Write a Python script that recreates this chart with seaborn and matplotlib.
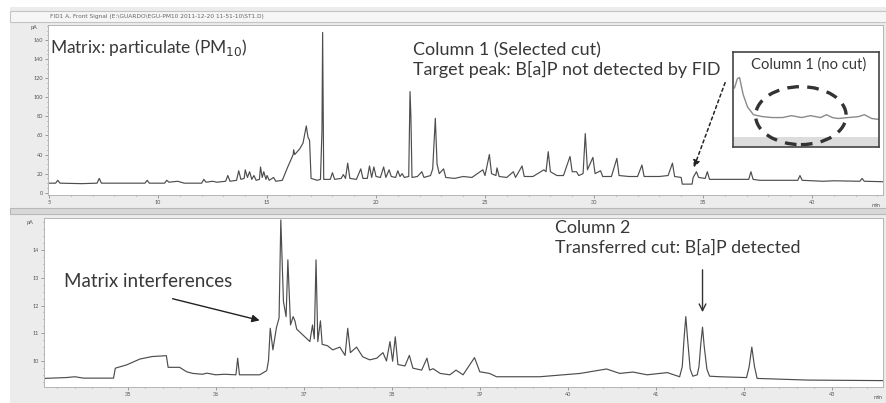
import matplotlib
matplotlib.use("Agg")
import matplotlib.pyplot as plt
from matplotlib.patches import Rectangle, Ellipse
from matplotlib.ticker import MultipleLocator, FixedLocator
import pandas as pd
import seaborn as sns

# column 1 (FID, full run) - retention time (min) / signal (pA)
top_time = [4.95, 5.3, 5.4, 5.5, 6.5, 7.2, 7.3, 7.4, 8.5, 9.4, 9.5, 9.6, 10.3, 10.4, 10.5, 10.9, 11.2,
            12.0, 12.1, 12.2, 12.5, 12.7, 13.1, 13.2, 13.3, 13.6, 13.7, 13.8, 13.95, 14.0, 14.1, 14.2,
            14.3, 14.4, 14.5, 14.65, 14.7, 14.78, 14.85, 14.95, 15.0, 15.1, 15.3, 15.4, 15.7, 15.95,
            16.2, 16.22, 16.27, 16.5, 16.65, 16.8, 16.88, 16.95, 17.02, 17.3, 17.45, 17.52, 17.55, 17.6,
            17.9, 18.0, 18.1, 18.4, 18.5, 18.6, 18.7, 18.8, 19.1, 19.3, 19.4, 19.6, 19.7, 19.8, 19.9,
            20.0, 20.2, 20.35, 20.45, 20.6, 20.7, 20.9, 21.0, 21.1, 21.2, 21.3, 21.5, 21.56, 21.6, 21.65,
            21.9, 22.1, 22.2, 22.5, 22.6, 22.72, 22.8, 22.9, 23.1, 23.2, 23.6, 24.0, 24.4, 24.9, 25.0,
            25.2, 25.3, 25.5, 25.55, 25.65, 26.0, 26.3, 26.4, 26.7, 26.8, 27.2, 27.7, 27.8, 27.9, 28.0,
            28.3, 28.6, 28.9, 29.0, 29.2, 29.3, 29.5, 29.6, 29.7, 29.95, 30.05, 30.3, 30.4, 30.8, 31.05,
            31.15, 31.6, 32.0, 32.2, 32.3, 33.0, 33.4, 33.6, 33.7, 34.0, 34.05, 34.5, 34.55, 34.7, 34.8,
            35.1, 35.2, 35.3, 35.6, 36.2, 37.1, 37.2, 37.3, 37.6, 38.5, 39.35, 39.45, 39.55, 40.5, 41.0,
            42.2, 42.3, 42.4, 43.3]
top_signal = [10, 10, 13, 10, 9.5, 10, 15, 10, 10, 10, 13, 10, 10, 13, 11, 12, 10,
              10, 14, 11, 12, 11, 12, 18, 12, 13, 23, 14, 15, 24, 16, 22,
              14, 18, 13, 14, 27, 16, 22, 14, 18, 13, 16, 12, 13, 27,
              40, 45, 40, 46, 52, 70, 58, 55, 15, 13, 14, 65, 168, 14,
              14, 21, 14, 15, 19, 15, 31, 15, 14, 25, 15, 15, 28, 16, 27,
              17, 16, 27, 16, 24, 17, 16, 23, 17, 20, 16, 17, 106, 80, 16,
              17, 22, 16, 18, 25, 78, 30, 20, 25, 16, 15, 17, 16, 24, 18,
              40, 20, 18, 26, 17, 16, 22, 16, 28, 17, 17, 24, 22, 43, 22,
              18, 18, 38, 22, 22, 18, 20, 62, 24, 37, 20, 23, 17, 17, 36,
              18, 17, 17, 29, 17, 17, 18, 31, 17, 16, 9, 9, 16, 22, 16,
              15, 22, 14, 14, 14, 14, 22, 14, 13, 13, 13, 18, 13, 12, 12.5,
              12, 15, 12, 11.5]

# column 2 (transferred heart-cut)
bot_time = [34.05, 34.3, 34.4, 34.5, 34.84, 34.86, 34.99, 35.14, 35.28, 35.44, 35.46, 35.59, 35.67,
            35.74, 35.85, 35.9, 36.0, 36.1, 36.23, 36.25, 36.27, 36.5, 36.58, 36.6, 36.62, 36.65,
            36.69, 36.72, 36.74, 36.77, 36.8, 36.82, 36.85, 36.88, 36.9, 36.92, 36.99, 37.07, 37.1,
            37.12, 37.14, 37.16, 37.19, 37.21, 37.27, 37.33, 37.41, 37.47, 37.5, 37.53, 37.6, 37.67,
            37.75, 37.83, 37.9, 37.94, 37.98, 38.01, 38.04, 38.07, 38.15, 38.2, 38.24, 38.34, 38.4,
            38.43, 38.47, 38.55, 38.66, 38.73, 38.81, 38.94, 39.0, 39.11, 39.19, 39.68, 40.14, 40.44,
            40.59, 40.74, 40.9, 41.13, 41.27, 41.3, 41.32, 41.34, 41.36, 41.39, 41.42, 41.47, 41.49,
            41.51, 41.53, 41.55, 41.58, 41.61, 41.73, 42.03, 42.06, 42.09, 42.12, 42.15, 42.72, 43.6]
bot_signal = [9.37, 9.4, 9.43, 9.38, 9.38, 9.74, 9.86, 10.07, 10.16, 10.19, 9.77, 9.77, 9.61,
              9.55, 9.52, 9.56, 9.5, 9.52, 9.5, 10.1, 9.5, 9.5, 9.65, 10.02, 11.18, 10.4,
              11.2, 11.55, 15.09, 12.14, 11.6, 13.65, 11.3, 11.6, 11.45, 11.15, 10.94, 10.7, 11.3,
              10.8, 13.65, 10.7, 11.45, 10.6, 10.55, 10.4, 10.5, 10.2, 11.18, 10.3, 10.5, 10.15,
              10.04, 10.1, 10.3, 10.0, 10.7, 9.99, 10.87, 9.87, 9.82, 10.2, 9.74, 9.67, 10.1,
              9.67, 9.72, 9.55, 9.5, 9.67, 9.5, 10.12, 9.61, 9.55, 9.43, 9.43, 9.55, 9.71,
              9.55, 9.6, 9.5, 9.58, 9.43, 9.8, 10.8, 11.6, 10.8, 9.7, 9.45, 9.5, 9.8,
              10.6, 11.22, 10.5, 9.7, 9.45, 9.43, 9.4, 9.8, 10.5, 9.8, 9.37, 9.31, 9.29]

# inset "Column 1 (no cut)" trace, relative units (0-1)
inset_x = [0.01, 0.03, 0.045, 0.07, 0.1, 0.14, 0.2, 0.27, 0.34, 0.4, 0.47, 0.53, 0.6,
           0.64, 0.68, 0.72, 0.79, 0.86, 0.9, 0.95, 1.0]
inset_y = [0.62, 0.72, 0.73, 0.55, 0.42, 0.34, 0.32, 0.31, 0.31, 0.33, 0.31, 0.33, 0.31,
           0.34, 0.31, 0.30, 0.31, 0.32, 0.34, 0.30, 0.29]

top_df = pd.DataFrame({'t': top_time, 'pA': top_signal})
bot_df = pd.DataFrame({'t': bot_time, 'pA': bot_signal})
ins_df = pd.DataFrame({'x': inset_x, 'y': inset_y})

sns.set_style('ticks')
plt.rcParams['font.family'] = ['Lato', 'DejaVu Sans']

W, H = 887, 403
fig = plt.figure(figsize=(W / 100, H / 100), dpi=100)
fig.patch.set_facecolor('white')
fig.patches.append(Rectangle((10 / W, 0), 1, 1 - 7 / H, transform=fig.transFigure,
                             facecolor='#ececec', edgecolor='none', zorder=-10))
# title bar of the software window
fig.patches.append(Rectangle((10 / W, 1 - 22 / H), 1, 11 / H, transform=fig.transFigure,
                             facecolor='#f6f6f6', edgecolor='#c4c4c4', lw=0.8, zorder=-9))
fig.text(157 / W, 1 - 16.5 / H, r'FID1 A, Front Signal (E:\GUARDO\EGU-PM10 2011-12-20 11-51-10\ST1.D)',
         fontsize=4.2, color='#666666', ha='center', va='center', family='DejaVu Sans')
# separator between the two windows
fig.patches.append(Rectangle((10 / W, 1 - 214 / H), 1, 6 / H, transform=fig.transFigure,
                             facecolor='#d8d8d8', edgecolor='#b8b8b8', lw=0.8, zorder=-9))

line_c = '#4d4d4d'
txt_c = '#383838'
tick_kw = dict(labelsize=4, length=2, width=0.5, color='#777777', labelcolor='#555555', pad=1.5)

# ---------------- column 1 ----------------
ax1 = fig.add_axes([48 / W, 1 - 195 / H, (883 - 48) / W, (195 - 25) / H])
sns.lineplot(data=top_df, x='t', y='pA', estimator=None, sort=False, color=line_c, lw=0.85, ax=ax1)
ax1.set_xlim(4.95, 43.26)
ax1.set_ylim(-2.4, 175.8)
ax1.xaxis.set_major_locator(MultipleLocator(5))
ax1.xaxis.set_minor_locator(MultipleLocator(1))
ax1.yaxis.set_major_locator(FixedLocator(range(0, 161, 20)))
ax1.yaxis.set_minor_locator(MultipleLocator(5))
ax1.tick_params(which='both', **tick_kw)
ax1.tick_params(which='minor', length=1)
ax1.set_xlabel('')
ax1.set_ylabel('')
for s in ax1.spines.values():
    s.set_color('#b5b5b5')
    s.set_linewidth(0.7)
ax1.text(-0.012, 0.985, 'pA', transform=ax1.transAxes, fontsize=4, color='#555555', ha='right', va='center')
ax1.text(0.997, -0.045, 'min', transform=ax1.transAxes, fontsize=4, color='#555555', ha='right', va='top')

ax1.text(5.05, 151.7, r'Matrix: particulate (PM$_{10}$)', fontsize=12.5, color=txt_c, va='center')
ax1.text(21.7, 149.6, 'Column 1 (Selected cut)', fontsize=13, color=txt_c, va='center')
ax1.text(21.7, 128.7, 'Target peak: B[a]P not detected by FID', fontsize=12.9, color=txt_c, va='center')
ax1.annotate('', xy=(34.54, 23.8), xytext=(36.06, 118.1),
             arrowprops=dict(arrowstyle='-|>', color='#222222', lw=1.1, linestyle=(0, (2, 2)),
                             mutation_scale=10))

# inset
axi = fig.add_axes([733 / W, 1 - 147 / H, (879 - 733) / W, (147 - 52) / H])
axi.set_facecolor('white')
axi.axhspan(0, 0.105, color='#dcdcdc', lw=0)
sns.lineplot(data=ins_df, x='x', y='y', estimator=None, sort=False, color='#8a8a8a', lw=1.0, ax=axi)
axi.add_patch(Ellipse((0.465, 0.33), 0.62, 0.61, fill=False, edgecolor='#333333', lw=2.4,
                      linestyle=(0, (3.5, 2.5))))
axi.set_xlim(0, 1)
axi.set_ylim(0, 1)
axi.set_xticks([])
axi.set_yticks([])
axi.set_xlabel('')
axi.set_ylabel('')
for s in axi.spines.values():
    s.set_color('#444444')
    s.set_linewidth(1.2)
axi.text(0.52, 0.87, 'Column 1 (no cut)', transform=axi.transAxes, fontsize=10.6, color=txt_c,
         ha='center', va='center')

# ---------------- column 2 ----------------
ax2 = fig.add_axes([44 / W, 1 - 387 / H, (883 - 44) / W, (387 - 218) / H])
sns.lineplot(data=bot_df, x='t', y='pA', estimator=None, sort=False, color=line_c, lw=0.85, ax=ax2)
ax2.set_xlim(34.05, 43.58)
ax2.set_ylim(9.06, 15.16)
ax2.xaxis.set_major_locator(MultipleLocator(1))
ax2.xaxis.set_minor_locator(MultipleLocator(0.2))
ax2.yaxis.set_major_locator(FixedLocator([10, 11, 12, 13, 14]))
ax2.yaxis.set_minor_locator(MultipleLocator(0.25))
ax2.tick_params(which='both', **tick_kw)
ax2.tick_params(which='minor', length=1)
ax2.set_xlabel('')
ax2.set_ylabel('')
for s in ax2.spines.values():
    s.set_color('#b5b5b5')
    s.set_linewidth(0.7)
ax2.text(-0.012, 0.975, 'pA', transform=ax2.transAxes, fontsize=4, color='#555555', ha='right', va='center')
ax2.text(0.999, -0.045, 'min', transform=ax2.transAxes, fontsize=4, color='#555555', ha='right', va='top')

ax2.text(34.28, 12.85, 'Matrix interferences', fontsize=13.5, color=txt_c, va='center')
ax2.annotate('', xy=(36.53, 11.44), xytext=(35.48, 12.27),
             arrowprops=dict(arrowstyle='-|>', color='#222222', lw=1.0, mutation_scale=11))
ax2.text(39.85, 14.8, 'Column 2', fontsize=12.8, color=txt_c, va='center')
ax2.text(39.85, 14.08, 'Transferred cut: B[a]P detected', fontsize=12.8, color=txt_c, va='center')
ax2.annotate('', xy=(41.53, 11.66), xytext=(41.53, 13.39),
             arrowprops=dict(arrowstyle='->', color='#333333', lw=1.0, mutation_scale=12))

fig.savefig('out.png', dpi=100, facecolor=fig.get_facecolor())
